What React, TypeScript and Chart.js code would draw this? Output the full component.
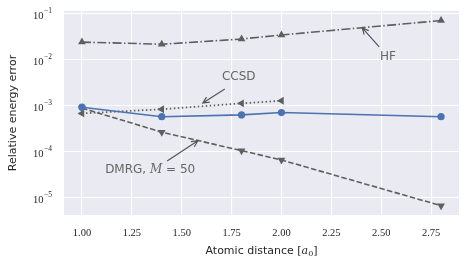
import { useEffect, useRef } from 'react';
import { Chart, registerables } from 'chart.js';
Chart.register(...registerables);

const distances = [1.0, 1.4, 1.8, 2.0, 2.8];
const ccsdDistances = [1.0, 1.4, 1.8, 2.0];
const dmrgError = [9.4e-4, 5.85e-4, 6.4e-4, 7.2e-4, 5.85e-4];
const dmrg50Error = [9.0e-4, 2.7e-4, 1.07e-4, 6.7e-5, 6.8e-6];
const ccsdError = [6.9e-4, 8.5e-4, 1.14e-3, 1.3e-3];
const hfError = [0.0245, 0.022, 0.0286, 0.035, 0.072];

const xTicks = [1.0, 1.25, 1.5, 1.75, 2.0, 2.25, 2.5, 2.75];
const yTicks = [1e-5, 1e-4, 1e-3, 1e-2, 1e-1];
const yTickExponents = ['−5', '−4', '−3', '−2', '−1'];

const annLabels = ['HF', 'CCSD', 'DMRG'];
const annTextX = [2.534, 1.786, 1.342];
const annTextY = [0.0116, 4.27e-3, 4.07e-5];
const annTailX = [2.49, 1.716, 1.427];
const annTailY = [0.0192, 2.34e-3, 6.4e-5];
const annTipX = [2.405, 1.606, 1.581];
const annTipY = [0.0497, 1.16e-3, 1.76e-4];

const GRAY = '#5f5f5f';
const BLUE = '#4C72B0';
const TEXT = '#262626';

const bgPlugin = {
  id: 'bg',
  beforeDraw(chart: any) {
    const { ctx, chartArea: a } = chart;
    ctx.save();
    ctx.fillStyle = '#EAEAF2';
    ctx.fillRect(a.left, a.top, a.right - a.left, a.bottom - a.top);
    ctx.restore();
  },
};

const labelsPlugin = {
  id: 'labels',
  afterDraw(chart: any) {
    const { ctx, chartArea: a } = chart;
    const ys = chart.scales.y;
    ctx.save();
    ctx.fillStyle = TEXT;
    // y tick labels 10^n
    for (let i = 0; i < yTicks.length; i++) {
      const py = ys.getPixelForValue(yTicks[i]);
      ctx.font = '7.5px "Liberation Serif"';
      const ew = ctx.measureText(yTickExponents[i]).width;
      const right = a.left - 12;
      ctx.textAlign = 'left';
      ctx.textBaseline = 'alphabetic';
      ctx.fillText(yTickExponents[i], right - ew, py - 1);
      ctx.font = '10.5px "Liberation Serif"';
      ctx.textAlign = 'right';
      ctx.fillText('10', right - ew - 0.5, py + 5);
    }
    // x axis title
    const parts = [
      { t: 'Atomic distance [', f: '11px "DejaVu Sans"', dy: 0 },
      { t: 'a', f: 'italic 11px "DejaVu Serif"', dy: 0 },
      { t: '0', f: '8px "DejaVu Serif"', dy: 2.5 },
      { t: ']', f: '11px "DejaVu Sans"', dy: 0 },
    ];
    let w = 0;
    for (const p of parts) { ctx.font = p.f; w += ctx.measureText(p.t).width; }
    let x = (a.left + a.right) / 2 - w / 2;
    const cy = 251;
    ctx.textAlign = 'left';
    ctx.textBaseline = 'middle';
    for (const p of parts) {
      ctx.font = p.f;
      ctx.fillText(p.t, x, cy + p.dy);
      x += ctx.measureText(p.t).width;
    }
    ctx.restore();
  },
};

const annPlugin = {
  id: 'ann',
  afterDatasetsDraw(chart: any) {
    const { ctx } = chart;
    const xs = chart.scales.x;
    const ys = chart.scales.y;
    ctx.save();
    for (let i = 0; i < annLabels.length; i++) {
      const tx = xs.getPixelForValue(annTailX[i]);
      const ty = ys.getPixelForValue(annTailY[i]);
      const px = xs.getPixelForValue(annTipX[i]);
      const py = ys.getPixelForValue(annTipY[i]);
      ctx.strokeStyle = '#555555';
      ctx.lineWidth = 1.2;
      ctx.setLineDash([]);
      ctx.beginPath();
      ctx.moveTo(tx, ty);
      ctx.lineTo(px, py);
      const ang = Math.atan2(py - ty, px - tx);
      const hl = 7;
      const hw = 0.45;
      ctx.moveTo(px - hl * Math.cos(ang - hw), py - hl * Math.sin(ang - hw));
      ctx.lineTo(px, py);
      ctx.lineTo(px - hl * Math.cos(ang + hw), py - hl * Math.sin(ang + hw));
      ctx.stroke();

      const cx = xs.getPixelForValue(annTextX[i]);
      const cy = ys.getPixelForValue(annTextY[i]);
      ctx.fillStyle = '#666666';
      ctx.textBaseline = 'middle';
      if (annLabels[i] === 'DMRG') {
        const parts = [
          { t: 'DMRG, ', f: '12px "DejaVu Sans"' },
          { t: 'M', f: 'italic 12px "DejaVu Serif"' },
          { t: ' = 50', f: '12px "DejaVu Sans"' },
        ];
        let w = 0;
        for (const p of parts) { ctx.font = p.f; w += ctx.measureText(p.t).width; }
        let x = cx - w / 2;
        ctx.textAlign = 'left';
        for (const p of parts) { ctx.font = p.f; ctx.fillText(p.t, x, cy); x += ctx.measureText(p.t).width; }
      } else {
        ctx.font = '12px "DejaVu Sans"';
        ctx.textAlign = 'center';
        ctx.fillText(annLabels[i], cx, cy);
      }
    }
    ctx.restore();
  },
};

export default function App() {
  const ref = useRef<HTMLCanvasElement>(null);
  useEffect(() => {
    document.body.style.margin = '0';
    const pts = (ys: number[], xsArr: number[]) => ys.map((y, i) => ({ x: xsArr[i], y }));
    const chart = new Chart(ref.current!, {
      type: 'line',
      data: {
        datasets: [
          {
            label: 'DMRG',
            data: pts(dmrgError, distances),
            borderColor: BLUE,
            backgroundColor: BLUE,
            borderWidth: 1.6,
            pointStyle: 'circle',
            pointRadius: 3.6,
            pointBorderWidth: 0,
          },
          {
            label: 'DMRG, M = 50',
            data: pts(dmrg50Error, distances),
            borderColor: GRAY,
            backgroundColor: GRAY,
            borderWidth: 1.6,
            borderDash: [5.5, 2.4],
            pointStyle: 'triangle',
            rotation: 180,
            pointRadius: 4.5,
            pointBorderWidth: 0,
          },
          {
            label: 'CCSD',
            data: pts(ccsdError, ccsdDistances),
            borderColor: GRAY,
            backgroundColor: GRAY,
            borderWidth: 1.8,
            borderDash: [1.5, 2.5],
            pointStyle: 'triangle',
            rotation: -90,
            pointRadius: 4.5,
            pointBorderWidth: 0,
          },
          {
            label: 'HF',
            data: pts(hfError, distances),
            borderColor: GRAY,
            backgroundColor: GRAY,
            borderWidth: 1.6,
            borderDash: [9, 2.4, 1.5, 2.4],
            pointStyle: 'triangle',
            pointRadius: 4.5,
            pointBorderWidth: 0,
          },
        ],
      },
      options: {
        animation: false,
        responsive: false,
        layout: { padding: { top: 11, right: 11, left: 0, bottom: 0 } },
        plugins: { legend: { display: false }, tooltip: { enabled: false } },
        scales: {
          x: {
            type: 'linear',
            min: 0.91,
            max: 2.89,
            afterBuildTicks: (s: any) => { s.ticks = xTicks.map((v) => ({ value: v })); },
            afterFit: (s: any) => { s.height = 52; },
            grid: { color: '#ffffff', lineWidth: 1.1, drawTicks: false },
            border: { display: false },
            ticks: {
              padding: 12,
              color: TEXT,
              font: { family: '"Liberation Serif"', size: 10.5 },
              callback: (v: any) => Number(v).toFixed(2),
              maxRotation: 0,
            },
            title: { display: false },
          },
          y: {
            type: 'logarithmic',
            min: Math.pow(10, -5.37),
            max: Math.pow(10, -0.935),
            afterBuildTicks: (s: any) => { s.ticks = yTicks.map((v) => ({ value: v })); },
            afterFit: (s: any) => { s.width = 64; },
            grid: { color: '#ffffff', lineWidth: 1.1, drawTicks: false },
            border: { display: false },
            ticks: { display: false },
            title: {
              display: true,
              text: 'Relative energy error',
              color: TEXT,
              font: { family: '"DejaVu Sans"', size: 11 },
              padding: { top: 7, bottom: 0 },
            },
          },
        },
      },
      plugins: [bgPlugin, annPlugin, labelsPlugin],
    });
    return () => chart.destroy();
  }, []);
  return (
    <div style={{ width: 470, height: 267 }}>
      <canvas ref={ref} width={470} height={267} style={{ display: 'block' }} />
    </div>
  );
}
